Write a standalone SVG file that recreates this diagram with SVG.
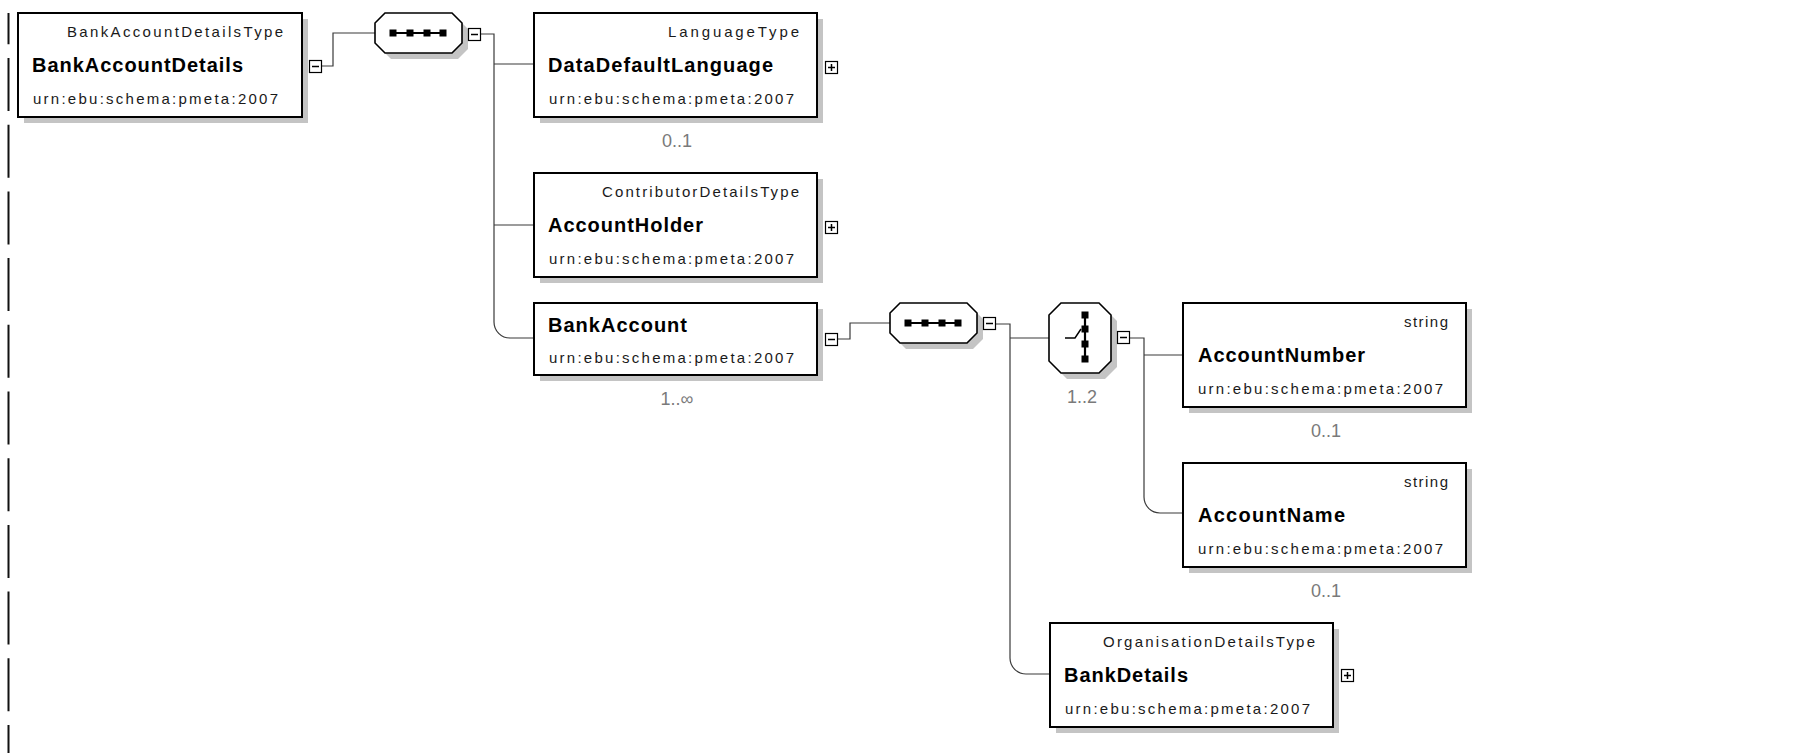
<svg xmlns="http://www.w3.org/2000/svg" xmlns:xlink="http://www.w3.org/1999/xlink" width="1800" height="753" viewBox="0 0 1800 753">
<style>
.bg{fill:#ffffff}
.box{fill:#ffffff;stroke:#000000;stroke-width:2}
.shadow{fill:#c4c4c4}
.type{font-family:"Liberation Sans",Arial,sans-serif;font-size:15px;fill:#1a1a1a}
.name{font-family:"Liberation Sans",Arial,sans-serif;font-size:20px;font-weight:bold;fill:#000000}
.ns{font-family:"Liberation Sans",Arial,sans-serif;font-size:15px;fill:#1a1a1a}
.occ{font-family:"Liberation Sans",Arial,sans-serif;font-size:18px;fill:#7a7a7a;text-anchor:middle}
.conn{fill:none;stroke:#3a3a3a;stroke-width:1.2}
.pm{fill:#ffffff;stroke:#000000;stroke-width:1.2}
.pmline{stroke:#000000;stroke-width:1.5}
.oct{fill:#ffffff;stroke:#000000;stroke-width:1.6}
.dot{fill:#000000}
</style>
<defs>
<g id="minus"><rect class="pm" x="0.5" y="0.5" width="12" height="12"/><line class="pmline" x1="3" y1="6.5" x2="10" y2="6.5"/></g>
<g id="plus"><rect class="pm" x="0.5" y="0.5" width="12" height="12"/><line class="pmline" x1="3" y1="6.5" x2="10" y2="6.5"/><line class="pmline" x1="6.5" y1="3" x2="6.5" y2="10"/></g>
<g id="seqIcon"><line x1="18" y1="0" x2="68" y2="0" stroke="#000" stroke-width="2.2"/><rect class="dot" x="14.5" y="-3.5" width="7" height="7"/><rect class="dot" x="31.5" y="-3.5" width="7" height="7"/><rect class="dot" x="48.5" y="-3.5" width="7" height="7"/><rect class="dot" x="64.5" y="-3.5" width="7" height="7"/></g>
</defs>
<rect class="bg" x="0" y="0" width="1800" height="753"/>
<line x1="8.5" y1="13" x2="8.5" y2="753" stroke="#111" stroke-width="2" stroke-dasharray="53 13.7" stroke-dashoffset="21.7"/>

<g id="connectors">
<path class="conn" d="M322,66 H333 V33 H375"/>
<path class="conn" d="M481,34 H494 V322 A16,16 0 0 0 510,338 H534"/>
<path class="conn" d="M494,64 H534"/>
<path class="conn" d="M494,225 H534"/>
<path class="conn" d="M838,339 H850 V323 H890"/>
<path class="conn" d="M996,324 H1010 V658 A16,16 0 0 0 1026,674 H1050"/>
<path class="conn" d="M1010,338 H1049"/>
<path class="conn" d="M1130,338 H1144 V497 A16,16 0 0 0 1160,513 H1183"/>
<path class="conn" d="M1144,355 H1183"/>
</g>

<g id="BankAccountDetails">
<rect class="shadow" x="24" y="19" width="284" height="104"/>
<rect class="box" x="18" y="13" width="284" height="104"/>
<text class="type" x="283" y="37" text-anchor="end" textLength="216" lengthAdjust="spacing">BankAccountDetailsType</text>
<text class="name" x="32" y="72" textLength="211" lengthAdjust="spacing">BankAccountDetails</text>
<text class="ns" x="33" y="104" textLength="245" lengthAdjust="spacing">urn:ebu:schema:pmeta:2007</text>
<use xlink:href="#minus" x="309" y="60"/>
</g>

<g id="sequence1">
<path class="shadow" d="M391,19 H458 L468,29 V49 L458,59 H391 L381,49 V29 Z"/>
<path class="oct" d="M385,13 H452 L462,23 V43 L452,53 H385 L375,43 V23 Z"/>
<use xlink:href="#seqIcon" x="375" y="33"/>
<use xlink:href="#minus" x="468" y="28"/>
</g>

<g id="DataDefaultLanguage">
<rect class="shadow" x="540" y="19" width="283" height="104"/>
<rect class="box" x="534" y="13" width="283" height="104"/>
<text class="type" x="799" y="37" text-anchor="end" textLength="131" lengthAdjust="spacing">LanguageType</text>
<text class="name" x="548" y="72" textLength="225" lengthAdjust="spacing">DataDefaultLanguage</text>
<text class="ns" x="549" y="104" textLength="245" lengthAdjust="spacing">urn:ebu:schema:pmeta:2007</text>
<use xlink:href="#plus" x="825" y="61"/>
<text class="occ" x="677" y="147">0..1</text>
</g>

<g id="AccountHolder">
<rect class="shadow" x="540" y="179" width="283" height="104"/>
<rect class="box" x="534" y="173" width="283" height="104"/>
<text class="type" x="799" y="197" text-anchor="end" textLength="197" lengthAdjust="spacing">ContributorDetailsType</text>
<text class="name" x="548" y="232" textLength="155" lengthAdjust="spacing">AccountHolder</text>
<text class="ns" x="549" y="264" textLength="245" lengthAdjust="spacing">urn:ebu:schema:pmeta:2007</text>
<use xlink:href="#plus" x="825" y="221"/>
</g>

<g id="BankAccount">
<rect class="shadow" x="540" y="309" width="283" height="72"/>
<rect class="box" x="534" y="303" width="283" height="72"/>
<text class="name" x="548" y="332" textLength="139" lengthAdjust="spacing">BankAccount</text>
<text class="ns" x="549" y="363" textLength="245" lengthAdjust="spacing">urn:ebu:schema:pmeta:2007</text>
<use xlink:href="#minus" x="825" y="333"/>
<text class="occ" x="677" y="405">1..∞</text>
</g>

<g id="sequence2">
<path class="shadow" d="M906,309 H973 L983,319 V339 L973,349 H906 L896,339 V319 Z"/>
<path class="oct" d="M900,303 H967 L977,313 V333 L967,343 H900 L890,333 V313 Z"/>
<use xlink:href="#seqIcon" x="890" y="323"/>
<use xlink:href="#minus" x="983" y="317"/>
</g>

<g id="choice">
<path class="shadow" d="M1067,309 H1105 L1117,321 V367 L1105,379 H1067 L1055,367 V321 Z"/>
<path class="oct" d="M1061,303 H1099 L1111,315 V361 L1099,373 H1061 L1049,361 V315 Z"/>
<line x1="1085" y1="315" x2="1085" y2="359" stroke="#000" stroke-width="2.2"/>
<polyline points="1065,338 1075,338 1081,329" fill="none" stroke="#000" stroke-width="1.5"/>
<rect class="dot" x="1081.5" y="311.5" width="7" height="7"/>
<rect class="dot" x="1081.5" y="325.5" width="7" height="7"/>
<rect class="dot" x="1081.5" y="340.5" width="7" height="7"/>
<rect class="dot" x="1081.5" y="355.5" width="7" height="7"/>
<use xlink:href="#minus" x="1117" y="331"/>
<text class="occ" x="1082" y="403">1..2</text>
</g>

<g id="AccountNumber">
<rect class="shadow" x="1189" y="309" width="283" height="104"/>
<rect class="box" x="1183" y="303" width="283" height="104"/>
<text class="type" x="1448" y="327" text-anchor="end" textLength="44" lengthAdjust="spacing">string</text>
<text class="name" x="1198" y="362" textLength="167" lengthAdjust="spacing">AccountNumber</text>
<text class="ns" x="1198" y="394" textLength="245" lengthAdjust="spacing">urn:ebu:schema:pmeta:2007</text>
<text class="occ" x="1326" y="437">0..1</text>
</g>

<g id="AccountName">
<rect class="shadow" x="1189" y="469" width="283" height="104"/>
<rect class="box" x="1183" y="463" width="283" height="104"/>
<text class="type" x="1448" y="487" text-anchor="end" textLength="44" lengthAdjust="spacing">string</text>
<text class="name" x="1198" y="522" textLength="147" lengthAdjust="spacing">AccountName</text>
<text class="ns" x="1198" y="554" textLength="245" lengthAdjust="spacing">urn:ebu:schema:pmeta:2007</text>
<text class="occ" x="1326" y="597">0..1</text>
</g>

<g id="BankDetails">
<rect class="shadow" x="1056" y="629" width="283" height="104"/>
<rect class="box" x="1050" y="623" width="283" height="104"/>
<text class="type" x="1315" y="647" text-anchor="end" textLength="212" lengthAdjust="spacing">OrganisationDetailsType</text>
<text class="name" x="1064" y="682" textLength="124" lengthAdjust="spacing">BankDetails</text>
<text class="ns" x="1065" y="714" textLength="245" lengthAdjust="spacing">urn:ebu:schema:pmeta:2007</text>
<use xlink:href="#plus" x="1341" y="669"/>
</g>
</svg>
